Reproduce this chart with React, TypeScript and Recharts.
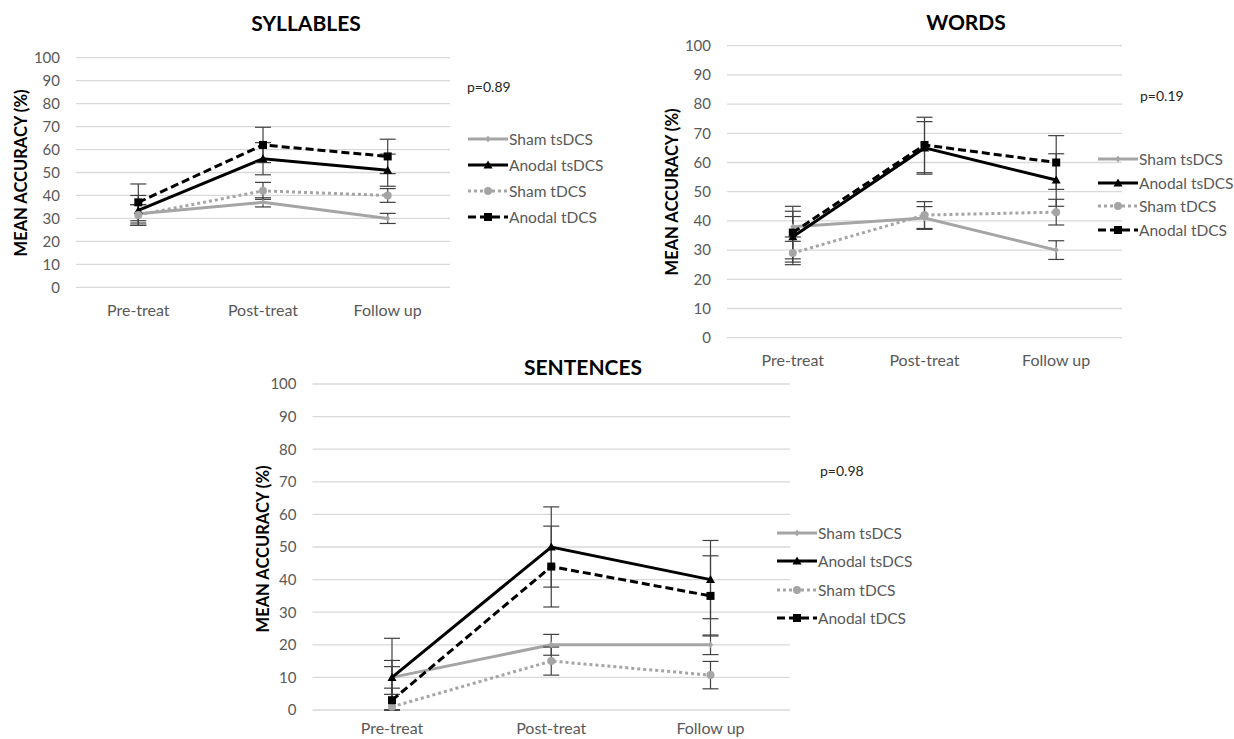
import React from 'react';
import { LineChart, Line, XAxis, YAxis, CartesianGrid, ErrorBar, Legend } from 'recharts';

const CATEGORIES = ['Pre-treat', 'Post-treat', 'Follow up'];
const Y_TICKS = [0, 10, 20, 30, 40, 50, 60, 70, 80, 90, 100];
const SERIES = ['Sham tsDCS', 'Anodal tsDCS', 'Sham tDCS', 'Anodal tDCS'];

// syllables
const SYL_SHAM_TS = [32, 37, 30];
const SYL_SHAM_TS_ERR = [4, 2, 2.2];
const SYL_ANODAL_TS = [33.5, 56, 51];
const SYL_ANODAL_TS_ERR = [6.5, 7, 7];
const SYL_SHAM_T = [31.5, 42, 40];
const SYL_SHAM_T_ERR = [4.5, 3.7, 3];
const SYL_ANODAL_T = [37, 62, 57];
const SYL_ANODAL_T_ERR = [8, 7.7, 7.5];

// words
const WRD_SHAM_TS = [38, 41, 30];
const WRD_SHAM_TS_ERR = [3.5, 3.9, 3.2];
const WRD_ANODAL_TS = [34.6, 65, 54];
const WRD_ANODAL_TS_ERR = [8.7, 9, 9];
const WRD_SHAM_T = [29, 42, 43];
const WRD_SHAM_T_ERR = [4, 4.6, 4.4];
const WRD_ANODAL_T = [36, 66, 60];
const WRD_ANODAL_T_ERR = [9, 9.5, 9.2];

// sentences (low/high pairs where the bar would cross zero)
const SEN_SHAM_TS = [10, 20, 20];
const SEN_SHAM_TS_ERR = [5.2, 3.2, 3];
const SEN_ANODAL_TS = [10, 50, 40];
const SEN_ANODAL_TS_ERR = [[10, 12], 12.3, 12];
const SEN_SHAM_T = [1, 15, 10.7];
const SEN_SHAM_T_ERR = [[1, 5.7], 4.3, 4.2];
const SEN_ANODAL_T = [3, 44, 35];
const SEN_ANODAL_T_ERR = [[3, 10.3], 12.4, 12.3];

const FONT = 'Lato, "Open Sans", sans-serif';
const GRAY = '#a5a5a5';
const TEXT = '#595959';

const STYLES = [
  { key: 'shamTs', color: GRAY, dash: undefined as string | undefined, marker: 'diamond' },
  { key: 'anodalTs', color: '#000', dash: undefined as string | undefined, marker: 'triangle' },
  { key: 'shamT', color: GRAY, dash: '3 3', marker: 'circle' },
  { key: 'anodalT', color: '#000', dash: '8 4', marker: 'square' },
];

const buildRows = (vals: any[][], errs: any[][]) =>
  CATEGORIES.map((name, i) => {
    const row: any = { name };
    STYLES.forEach((s, k) => {
      row[s.key] = vals[k][i];
      row[s.key + 'Err'] = errs[k][i];
    });
    return row;
  });

const Marker = ({ kind, cx, cy }: { kind: string; cx: number; cy: number }) => {
  if (kind === 'diamond')
    return <path d={`M${cx},${cy - 3.5}L${cx + 2.5},${cy}L${cx},${cy + 3.5}L${cx - 2.5},${cy}Z`} fill={GRAY} />;
  if (kind === 'triangle')
    return <path d={`M${cx},${cy - 4.5}L${cx + 4.5},${cy + 3.5}L${cx - 4.5},${cy + 3.5}Z`} fill="#000" />;
  if (kind === 'circle') return <circle cx={cx} cy={cy} r={4} fill={GRAY} />;
  return <rect x={cx - 4} y={cy - 4} width={8} height={8} fill="#000" />;
};

const LegendBox = ({ rowH }: { rowH: number }) => (
  <div style={{ fontFamily: FONT }}>
    {SERIES.map((name, i) => {
      const s = STYLES[i];
      return (
        <div key={name} style={{ display: 'flex', alignItems: 'center', height: rowH }}>
          <svg width={40} height={12} style={{ display: 'block' }}>
            <line x1={0} y1={6} x2={40} y2={6} stroke={s.color} strokeWidth={3} strokeDasharray={s.dash} />
            <Marker kind={s.marker} cx={20} cy={6} />
          </svg>
          <span style={{ fontSize: 15.5, color: TEXT, marginLeft: 1, whiteSpace: 'nowrap' }}>{name}</span>
        </div>
      );
    })}
  </div>
);

const PANELS = [
  {
    title: 'SYLLABLES', p: 'p=0.89',
    rows: buildRows(
      [SYL_SHAM_TS, SYL_ANODAL_TS, SYL_SHAM_T, SYL_ANODAL_T],
      [SYL_SHAM_TS_ERR, SYL_ANODAL_TS_ERR, SYL_SHAM_T_ERR, SYL_ANODAL_T_ERR]),
    left: 0, top: 0, width: 620, height: 330,
    margin: { top: 57.7, right: 170, bottom: 12.7, left: 16 }, yw: 60, pad: 62.3, xh: 30, xtm: 17,
    legendLeft: 468, legendTop: 126, legendRow: 26,
    titleX: 306, titleY: 24, yLabelX: 21, yLabelY: 173, pX: 467, pY: 88,
  },
  {
    title: 'WORDS', p: 'p=0.19',
    rows: buildRows(
      [WRD_SHAM_TS, WRD_ANODAL_TS, WRD_SHAM_T, WRD_ANODAL_T],
      [WRD_SHAM_TS_ERR, WRD_ANODAL_TS_ERR, WRD_SHAM_T_ERR, WRD_ANODAL_T_ERR]),
    left: 630, top: 0, width: 604, height: 370,
    margin: { top: 45.7, right: 112, bottom: 2.3, left: 37 }, yw: 60, pad: 65.8, xh: 30, xtm: 17,
    legendLeft: 468, legendTop: 147, legendRow: 23.7,
    titleX: 966, titleY: 23, yLabelX: 672, yLabelY: 192, pX: 1140, pY: 97,
  },
  {
    title: 'SENTENCES', p: 'p=0.98',
    rows: buildRows(
      [SEN_SHAM_TS, SEN_ANODAL_TS, SEN_SHAM_T, SEN_ANODAL_T],
      [SEN_SHAM_TS_ERR, SEN_ANODAL_TS_ERR, SEN_SHAM_T_ERR, SEN_ANODAL_T_ERR]),
    left: 250, top: 350, width: 700, height: 389,
    margin: { top: 34, right: 160, bottom: 0, left: 7.5 }, yw: 55, pad: 79.5, xh: 29, xtm: 13,
    legendLeft: 527, legendTop: 169, legendRow: 28.3,
    titleX: 583, titleY: 368, yLabelX: 263, yLabelY: 549, pX: 820, pY: 472,
  },
];

const Panel = ({ cfg }: { cfg: (typeof PANELS)[number] }) => (
  <>
    <div style={{ position: 'absolute', left: cfg.left, top: cfg.top }}>
      <LineChart width={cfg.width} height={cfg.height} data={cfg.rows} margin={cfg.margin}>
        <CartesianGrid vertical={false} stroke="#d9d9d9" strokeWidth={1.3} />
        <XAxis
          dataKey="name"
          axisLine={false}
          tickLine={false}
          tickSize={0}
          tickMargin={cfg.xtm}
          height={cfg.xh}
          interval={0}
          padding={{ left: cfg.pad, right: cfg.pad }}
          tick={{ fill: TEXT, fontSize: 16, fontFamily: FONT }}
        />
        <YAxis
          type="number"
          domain={[0, 100]}
          ticks={Y_TICKS}
          interval={0}
          width={cfg.yw}
          axisLine={false}
          tickLine={false}
          tickSize={0}
          tickMargin={16}
          tick={{ fill: TEXT, fontSize: 15, fontFamily: FONT }}
        />
        <Legend
          layout="vertical"
          align="center"
          verticalAlign="middle"
          content={() => <LegendBox rowH={cfg.legendRow} />}
          wrapperStyle={{ left: cfg.legendLeft, top: cfg.legendTop, width: 'auto', height: 'auto' }}
        />
        {STYLES.map((s, k) => (
          <Line
            key={s.key}
            name={SERIES[k]}
            dataKey={s.key}
            stroke={s.color}
            strokeWidth={3}
            strokeDasharray={s.dash}
            isAnimationActive={false}
            activeDot={false}
            dot={(p: any) => <Marker key={`${s.key}-${p.index}`} kind={s.marker} cx={p.cx} cy={p.cy} />}
          >
            <ErrorBar dataKey={s.key + 'Err'} direction="y" width={8} strokeWidth={1.2} stroke="#404040" />
          </Line>
        ))}
      </LineChart>
    </div>
    <div
      style={{
        position: 'absolute', left: cfg.titleX - 150, top: cfg.titleY - 12.6, width: 300,
        textAlign: 'center', fontFamily: FONT, fontWeight: 700, fontSize: 21, lineHeight: '24px', color: '#000',
      }}
    >
      {cfg.title}
    </div>
    <div
      style={{
        position: 'absolute', left: cfg.yLabelX, top: cfg.yLabelY, transform: 'translate(-50%, -50%) rotate(-90deg)',
        whiteSpace: 'nowrap', fontFamily: FONT, fontWeight: 700, fontSize: 16.5, lineHeight: '18px', color: '#000',
      }}
    >
      MEAN ACCURACY (%)
    </div>
    <div
      style={{
        position: 'absolute', left: cfg.pX, top: cfg.pY - 8.8, fontFamily: FONT, fontSize: 14,
        lineHeight: '16px', color: '#262626', whiteSpace: 'nowrap',
      }}
    >
      {cfg.p}
    </div>
  </>
);

export default function App() {
  return (
    <div style={{ position: 'absolute', left: 0, top: 0, width: 1234, height: 739, background: '#fff', overflow: 'hidden' }}>
      {PANELS.map((cfg) => (
        <Panel key={cfg.title} cfg={cfg} />
      ))}
    </div>
  );
}
